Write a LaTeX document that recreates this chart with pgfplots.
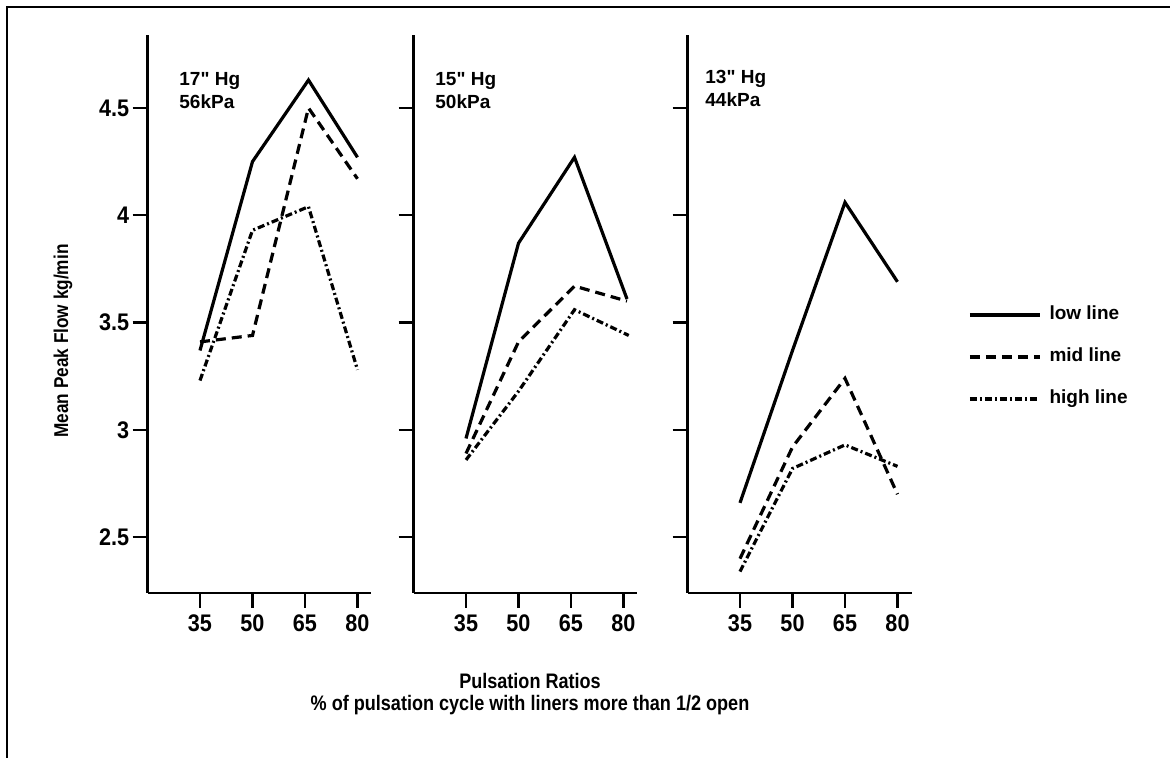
\documentclass[border=0pt]{standalone}
\usepackage{fontspec}
\setmainfont{Liberation Sans}
\newfontfamily\narrow{Liberation Sans}[FakeStretch=0.86]
\newfontfamily\ticknarrow{Liberation Sans}[FakeStretch=0.9]
\newcommand\dq{\XeTeXglyph\XeTeXcharglyph"22\relax}
\usepackage{pgfplots}
\pgfplotsset{compat=1.18}

\pgfplotsset{
  panel/.style={
    scale only axis, width=112pt, height=279pt,
    xmin=20, xmax=84, ymin=2.24, ymax=4.84,
    axis x line*=bottom, axis y line*=left,
    axis line style={line width=1.4pt},
    xtick={35,50,65,80},
    ytick={2.5,3,3.5,4,4.5},
    yticklabels={},
    tick align=outside,
    major tick length=7.5pt,
    tick style={black, line width=1.2pt},
    tick label style={font=\ticknarrow\bfseries\fontsize{12}{12}\selectfont},
    yticklabel style={inner xsep=1.5pt},
    /pgf/number format/assume math mode=true,
    clip=false,
  },
  low/.style={black, line width=1.6pt},
  mid/.style={black, line width=1.6pt, dash pattern=on 5pt off 3pt},
  high/.style={black, line width=1.6pt, dash pattern=on 3.5pt off 1.5pt on 1pt off 1.5pt},
}

\begin{document}
\begin{tikzpicture}
\path[use as bounding box] (0,0) rectangle (585pt,379pt);
\draw[line width=1pt] (3.5pt,0pt) -- (3.5pt,375.5pt) -- (585pt,375.5pt);

% 17" Hg
\begin{axis}[panel, at={(73.75pt,82.5pt)}, anchor=south west,
  yticklabels={2.5,3,3.5,4,4.5}]
\addplot[low]  coordinates {(35,3.37)(50,4.25)(66,4.63)(80,4.27)};
\addplot[mid]  coordinates {(35,3.41)(50,3.44)(66,4.50)(80,4.17)};
\addplot[high] coordinates {(35,3.23)(50,3.93)(66,4.04)(80,3.28)};
\end{axis}

% 15" Hg
\begin{axis}[panel, at={(206.75pt,82.5pt)}, anchor=south west]
\addplot[low]  coordinates {(35,2.96)(50,3.87)(66,4.27)(81,3.61)};
\addplot[mid]  coordinates {(35,2.89)(50,3.41)(66,3.67)(81,3.60)};
\addplot[high] coordinates {(35,2.86)(50,3.18)(66,3.56)(81.5,3.44)};
\end{axis}

% 13" Hg
\begin{axis}[panel, at={(343.75pt,82.5pt)}, anchor=south west,
  legend style={draw=none, fill=none, at={(axis description cs:1.225,0.423)}, anchor=west,
    font=\bfseries\fontsize{9.5}{11}\selectfont, row sep=10pt,
    nodes={inner sep=1pt, text height=7pt, text depth=2pt}},
  legend cell align=left,
  legend image code/.code={\draw[#1] (0pt,0pt) -- (35pt,0pt);},
  /tikz/every odd column/.append style={column sep=3pt}]
\addplot[low]  coordinates {(35,2.66)(50,3.37)(65,4.06)(80,3.69)};
\addlegendentry{low line}
\addplot[mid]  coordinates {(35,2.40)(50,2.92)(65,3.24)(80,2.70)};
\addlegendentry{mid line}
\addplot[high] coordinates {(35,2.34)(50,2.82)(65,2.93)(80,2.83)};
\addlegendentry{high line}
\end{axis}

\begin{scope}[every node/.style={inner sep=0pt, anchor=north west, align=left,
  font=\bfseries\fontsize{9.5}{11.5}\selectfont}]
\node at (89.5pt,343pt) {17\dq{} Hg\\56kPa};
\node at (217.5pt,343pt) {15\dq{} Hg\\50kPa};
\node at (352.5pt,344pt) {13\dq{} Hg\\44kPa};
\end{scope}

\node[rotate=90, font=\narrow\bfseries\fontsize{10}{12}\selectfont] at (31.5pt,208.5pt) {Mean Peak Flow kg/min};
\node[font=\narrow\bfseries\fontsize{10.5}{12}\selectfont] at (265pt,38.5pt) {Pulsation Ratios};
\node[font=\narrow\bfseries\fontsize{10.5}{12}\selectfont] at (265pt,26.5pt) {\% of pulsation cycle with liners more than 1/2 open};
\end{tikzpicture}
\end{document}
